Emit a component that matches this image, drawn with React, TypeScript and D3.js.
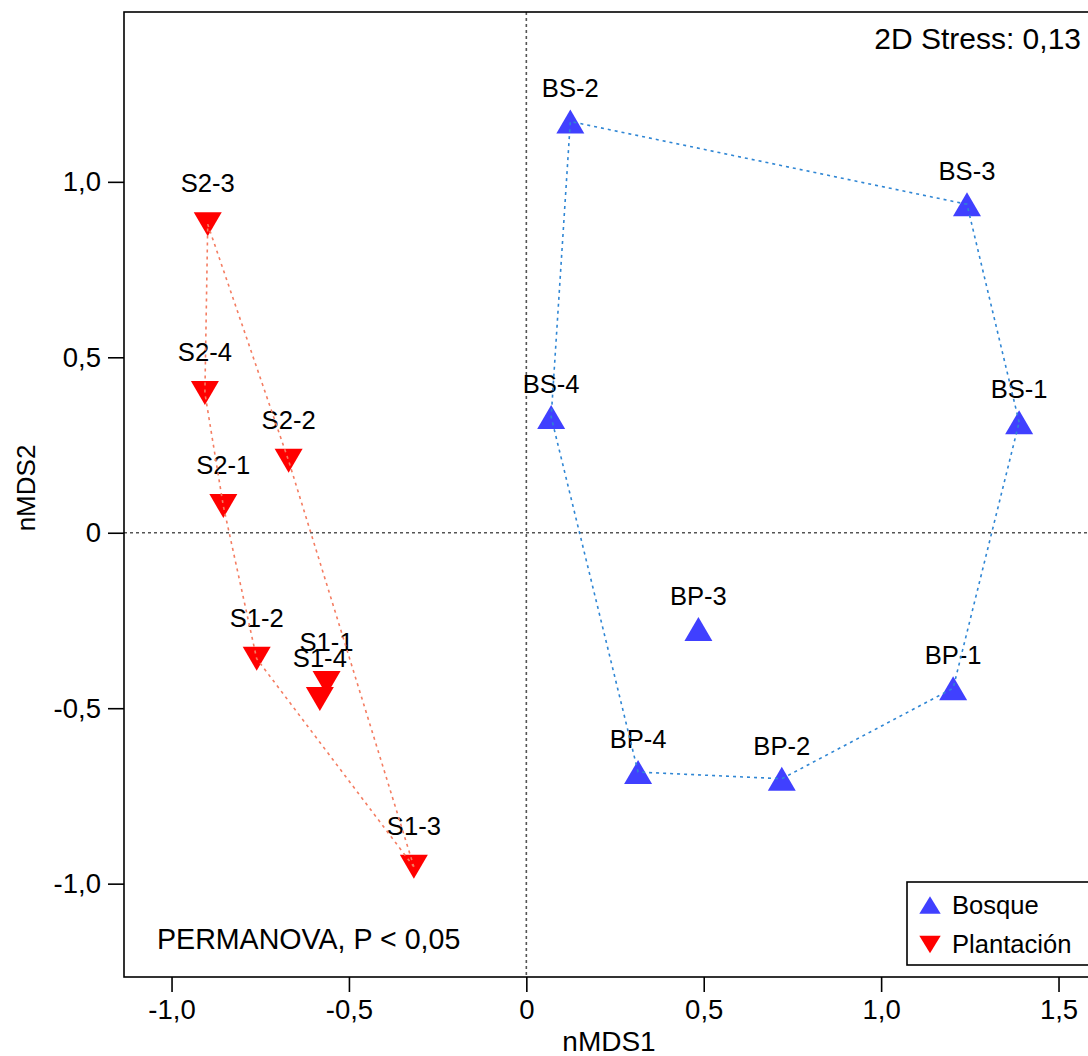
import React, { useRef, useEffect } from 'react';
import * as d3 from 'd3';

// nMDS scores
const bosqueLabels = ['BS-1', 'BS-2', 'BS-3', 'BS-4', 'BP-1', 'BP-2', 'BP-3', 'BP-4'];
const bosqueX = [1.389, 0.124, 1.242, 0.07, 1.203, 0.72, 0.485, 0.315];
const bosqueY = [0.315, 1.172, 0.936, 0.33, -0.443, -0.701, -0.274, -0.682];

const plantLabels = ['S1-1', 'S1-2', 'S1-3', 'S1-4', 'S2-1', 'S2-2', 'S2-3', 'S2-4'];
const plantX = [-0.563, -0.76, -0.317, -0.582, -0.854, -0.67, -0.898, -0.906];
const plantY = [-0.428, -0.359, -0.952, -0.474, 0.076, 0.205, 0.879, 0.398];

const xTicks = [-1, -0.5, 0, 0.5, 1, 1.5];
const yTicks = [-1, -0.5, 0, 0.5, 1];

const legendNames = ['Bosque', 'Plantación'];

const FONT = '"Liberation Sans", Arial, Helvetica, sans-serif';
const BLUE = '#4040ff';
const RED = '#ff0000';

const App: React.FC = () => {
  const svgRef = useRef<SVGSVGElement>(null);

  useEffect(() => {
    if (!svgRef.current) return;
    const width = 1088;
    const height = 1056;
    const plot = { left: 124, top: 12, right: 1094, bottom: 977 };

    const svg = d3.select(svgRef.current)
      .attr('width', width)
      .attr('height', height)
      .style('font-family', FONT);
    svg.selectAll('*').remove();

    const x = d3.scaleLinear().domain([-1.134, 1.6]).range([plot.left, plot.right]);
    const y = d3.scaleLinear().domain([-1.266, 1.484]).range([plot.bottom, plot.top]);

    const locale = d3.formatLocale({ decimal: ',', thousands: '.', grouping: [3], currency: ['', ''], minus: '-' });
    const fmt = (v: number) => (v === 0 ? '0' : locale.format('.1f')(v));

    // zero reference lines
    svg.append('line')
      .attr('x1', plot.left).attr('x2', plot.right)
      .attr('y1', y(0)).attr('y2', y(0))
      .attr('stroke', '#555').attr('stroke-width', 1.6).attr('stroke-dasharray', '3,3');
    svg.append('line')
      .attr('x1', x(0)).attr('x2', x(0))
      .attr('y1', plot.top).attr('y2', plot.bottom)
      .attr('stroke', '#555').attr('stroke-width', 1.6).attr('stroke-dasharray', '3,3');

    const groups = [
      { labels: bosqueLabels, xs: bosqueX, ys: bosqueY, fill: BLUE, line: '#2f86d4', up: true, labelDy: -24 },
      { labels: plantLabels, xs: plantX, ys: plantY, fill: RED, line: '#f47d62', up: false, labelDy: -32 },
    ];

    const upTri = 'M0,-12L14,12L-14,12Z';
    const downTri = 'M-14,-12L14,-12L0,12Z';

    groups.forEach(g => {
      const pts: [number, number][] = g.xs.map((v, i) => [x(v), y(g.ys[i])]);

      g.labels.forEach((lab, i) => {
        svg.append('path')
          .attr('d', g.up ? upTri : downTri)
          .attr('transform', `translate(${pts[i][0]},${pts[i][1]})`)
          .attr('fill', g.fill);
        svg.append('text')
          .attr('x', pts[i][0])
          .attr('y', pts[i][1] + g.labelDy)
          .attr('text-anchor', 'middle')
          .attr('font-size', 25.6)
          .attr('fill', '#000')
          .text(lab);
      });

      const hull = d3.polygonHull(pts);
      if (hull) {
        svg.append('path')
          .attr('d', 'M' + hull.map(p => p.join(',')).join('L') + 'Z')
          .attr('fill', 'none')
          .attr('stroke', g.line)
          .attr('stroke-width', 1.6)
          .attr('stroke-dasharray', '3,4');
      }
    });

    // frame
    svg.append('rect')
      .attr('x', plot.left).attr('y', plot.top)
      .attr('width', plot.right - plot.left).attr('height', plot.bottom - plot.top)
      .attr('fill', 'none').attr('stroke', '#000').attr('stroke-width', 1.6);

    // axes
    const xAxis = svg.append('g')
      .attr('transform', `translate(0,${plot.bottom})`)
      .call(d3.axisBottom(x).tickValues(xTicks).tickFormat(d => fmt(+d)).tickSize(15).tickPadding(7).tickSizeOuter(0));
    xAxis.select('.domain').remove();
    xAxis.selectAll('line').attr('stroke-width', 1.6);
    xAxis.selectAll('text').attr('font-size', 27.5).attr('font-family', FONT).attr('fill', '#000');

    const yAxis = svg.append('g')
      .attr('transform', `translate(${plot.left},0)`)
      .call(d3.axisLeft(y).tickValues(yTicks).tickFormat(d => fmt(+d)).tickSize(16).tickPadding(7).tickSizeOuter(0));
    yAxis.select('.domain').remove();
    yAxis.selectAll('line').attr('stroke-width', 1.6);
    yAxis.selectAll('text').attr('font-size', 27.5).attr('font-family', FONT).attr('fill', '#000');

    // axis titles
    svg.append('text')
      .attr('x', (plot.left + plot.right) / 2)
      .attr('y', 1051)
      .attr('text-anchor', 'middle')
      .attr('font-size', 28)
      .text('nMDS1');
    svg.append('text')
      .attr('transform', `translate(35,488) rotate(-90)`)
      .attr('text-anchor', 'middle')
      .attr('font-size', 26)
      .text('nMDS2');

    // annotations
    svg.append('text')
      .attr('x', 1081).attr('y', 49)
      .attr('text-anchor', 'end')
      .attr('font-size', 30)
      .text('2D Stress: 0,13');
    svg.append('text')
      .attr('x', 157).attr('y', 949)
      .attr('font-size', 28.6)
      .text('PERMANOVA, P < 0,05');

    // legend
    const lg = svg.append('g').attr('transform', 'translate(907,882)');
    lg.append('rect')
      .attr('width', 200).attr('height', 83)
      .attr('fill', '#fff').attr('stroke', '#000').attr('stroke-width', 1.6);
    legendNames.forEach((name, i) => {
      const cy = 23 + i * 39.5;
      lg.append('path')
        .attr('d', i === 0 ? 'M0,-8.7L10.7,8.7L-10.7,8.7Z' : 'M-10.7,-8.7L10.7,-8.7L0,8.7Z')
        .attr('transform', `translate(23,${cy})`)
        .attr('fill', i === 0 ? BLUE : RED);
      lg.append('text')
        .attr('x', 45)
        .attr('y', cy + 8.5)
        .attr('font-size', 25.6)
        .text(name);
    });
  }, []);

  return (
    <div style={{ position: 'absolute', left: 0, top: 0 }}>
      <svg ref={svgRef}></svg>
    </div>
  );
};

export default App;
